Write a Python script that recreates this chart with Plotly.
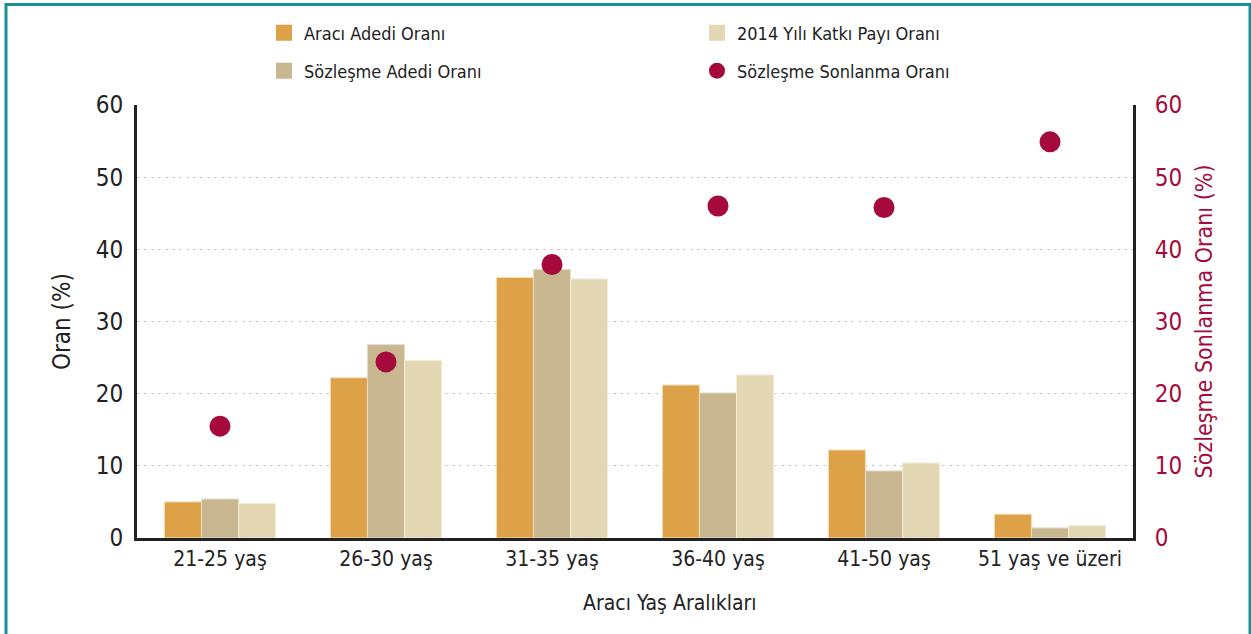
import plotly.graph_objects as go

# age groups and values (%)
yas_araliklari = ["21-25 yaş", "26-30 yaş", "31-35 yaş", "36-40 yaş", "41-50 yaş", "51 yaş ve üzeri"]
araci_adedi = [5.0, 22.2, 36.1, 21.2, 12.2, 3.3]
sozlesme_adedi = [5.4, 26.8, 37.2, 20.1, 9.3, 1.4]
katki_payi_2014 = [4.8, 24.6, 35.9, 22.6, 10.4, 1.7]
sonlanma_orani = [15.5, 24.4, 37.9, 46.0, 45.8, 54.9]

FONT = "DejaVu Sans Condensed, Liberation Sans Narrow, sans-serif"
CRIMSON = "#A60A3C"
TEAL = "#1B8F97"
TEXT = "#222222"

bar_series = [
    ("Aracı Adedi Oranı", araci_adedi, "#DDA248", "#F3DDB8", "legend", 1),
    ("Sözleşme Adedi Oranı", sozlesme_adedi, "#C9B791", "#E6DCC6", "legend2", 1),
    ("2014 Yılı Katkı Payı Oranı", katki_payi_2014, "#E3D8B3", "#F2ECD9", "legend", 2),
]

fig = go.Figure()
for name, values, color, edge, leg, rank in bar_series:
    fig.add_trace(go.Bar(
        x=yas_araliklari, y=values, name=name, showlegend=False,
        marker=dict(color=color, line=dict(color=edge, width=1)),
    ))
    # legend-only entry so the legend swatch is a bigger square
    fig.add_trace(go.Scatter(
        x=[None], y=[None], name=name, mode="markers",
        marker=dict(symbol="square", color=color, size=16),
        legend=leg, legendrank=rank,
    ))

fig.add_trace(go.Scatter(
    x=yas_araliklari, y=sonlanma_orani, name="Sözleşme Sonlanma Oranı",
    mode="markers", yaxis="y2",
    marker=dict(color=CRIMSON, size=21),
    legend="legend2", legendrank=2,
))

legend_common = dict(
    orientation="h", xref="paper", yref="container", xanchor="left", yanchor="middle",
    x=0.1275, entrywidth=388, entrywidthmode="pixels",
    font=dict(family=FONT, size=18, color=TEXT),
    bgcolor="rgba(0,0,0,0)", itemsizing="trace",
)

fig.update_layout(
    width=1251, height=634,
    margin=dict(l=137, r=118, t=105, b=96, autoexpand=False),
    paper_bgcolor="white", plot_bgcolor="white",
    font=dict(family=FONT, color=TEXT),
    barmode="group", bargap=0.33, bargroupgap=0,
    showlegend=True,
    legend=dict(legend_common, y=1 - 33 / 634),
    legend2=dict(legend_common, y=1 - 71 / 634),
    xaxis=dict(
        showline=True, linecolor=TEXT, linewidth=3,
        ticks="", tickfont=dict(size=21, color=TEXT),
    ),
    yaxis=dict(
        range=[0, 60], dtick=10, showline=True, linecolor=TEXT, linewidth=3,
        showgrid=True, gridcolor="#CACACA", griddash="3px,4px", gridwidth=1,
        ticks="", tickfont=dict(size=24, color=TEXT), zeroline=False, ticklabelstandoff=6,
        title=dict(text="Oran (%)", font=dict(size=24, color=TEXT), standoff=19),
    ),
    yaxis2=dict(
        range=[0, 60], dtick=10, overlaying="y", side="right",
        showline=True, linecolor=TEXT, linewidth=3, showgrid=False,
        ticks="", tickfont=dict(size=24, color=CRIMSON), zeroline=False, ticklabelstandoff=14,
        title=dict(text="Sözleşme Sonlanma Oranı (%)", font=dict(size=23, color=CRIMSON), standoff=15),
    ),
    annotations=[dict(
        text="Aracı Yaş Aralıkları", xref="paper", yref="paper",
        x=(670 - 137) / 996, y=-(603 - 538) / 433, xanchor="center", yanchor="middle",
        showarrow=False, font=dict(family=FONT, size=21, color=TEXT),
    )],
    shapes=[dict(
        type="rect", xref="paper", yref="paper",
        x0=(6 - 137) / 996, x1=(1250 - 137) / 996, y0=-200 / 433, y1=1 + (105 - 4.5) / 433,
        line=dict(color=TEAL, width=3), fillcolor="rgba(0,0,0,0)", layer="below",
    )],
)

# drop the default page margin so the figure sits at the window corner
fig.write_html("out.html", config={"displayModeBar": False},
               post_script="document.body.style.margin='0';")
